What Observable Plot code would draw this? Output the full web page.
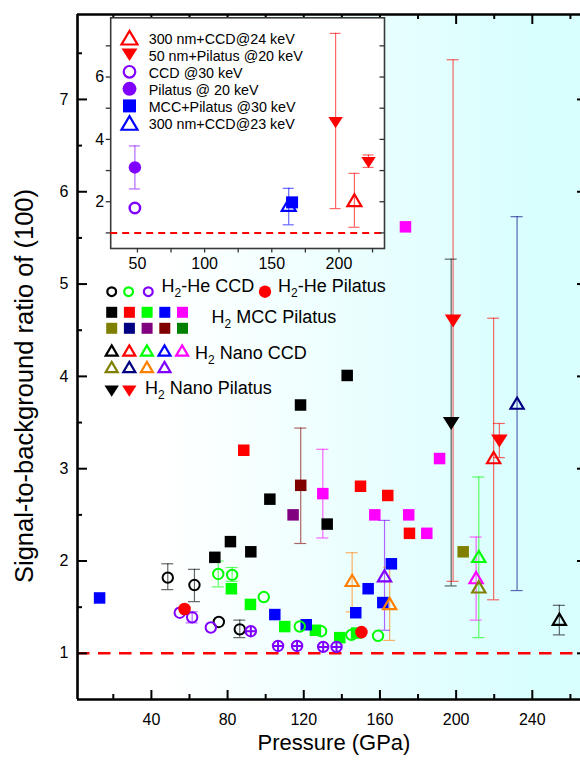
<!DOCTYPE html>
<html><head><meta charset="utf-8">
<script src="https://cdn.jsdelivr.net/npm/d3@7"></script>
<script src="https://cdn.jsdelivr.net/npm/@observablehq/plot@0.6"></script>
<style>
body{margin:0;background:#fff;}
#wrap{position:relative;width:580px;height:761px;overflow:hidden;font-family:"Liberation Sans",Arial,sans-serif;}
#wrap > svg{position:absolute;}
</style></head><body><div id="wrap"></div>
<script>
// ===== DATA (pressure in GPa, signal-to-background ratio) =====
// H2-He CCD (open circles)
const heCcdBlackP = [48.6, 62.6, 75.4, 86.4];
const heCcdBlackV = [1.82, 1.74, 1.34, 1.26];
const heCcdBlackLo = [1.69, 1.56, null, 1.17];
const heCcdBlackHi = [1.97, 1.91, null, 1.36];
const heCcdGreenP = [75.1, 82.4, 99.0, 117.9, 129.1, 145.0, 159.0];
const heCcdGreenV = [1.86, 1.85, 1.61, 1.29, 1.24, 1.20, 1.19];
const heCcdGreenLo = [1.72, 1.78, null, null, null, null, null];
const heCcdGreenHi = [2.00, 1.93, null, null, null, null, null];
const heCcdVioletP = [54.9, 61.4, 71.2];
const heCcdVioletV = [1.44, 1.39, 1.28];
const heCcdVioletLo = [null, 1.33, null];
const heCcdVioletHi = [null, 1.45, null];
const heCcdVioletXP = [92.2, 106.5, 116.5, 130.2, 137.2];
const heCcdVioletXV = [1.24, 1.08, 1.08, 1.07, 1.07];
// H2-He Pilatus (filled circles)
const hePilatusP = [57.4, 150.3];
const hePilatusV = [1.48, 1.23];
// H2 MCC Pilatus (squares)
const mccBlackP = [73.3, 81.5, 92.2, 102.2, 118.3, 132.3, 142.8];
const mccBlackV = [2.04, 2.21, 2.10, 2.67, 3.69, 2.40, 4.01];
const mccRedP = [88.5, 149.8, 164.1, 175.5];
const mccRedV = [3.20, 2.81, 2.71, 2.30];
const mccGreenP = [82.0, 92.0, 110.0, 126.1, 138.9, 147.7];
const mccGreenV = [1.70, 1.53, 1.29, 1.25, 1.17, 1.22];
const mccBlueP = [12.8, 104.8, 121.3, 147.3, 153.8, 161.5, 166.0];
const mccBlueV = [1.60, 1.42, 1.31, 1.44, 1.70, 1.55, 1.97];
const mccMagentaP = [130.0, 157.3, 173.4, 175.1, 184.6, 191.3];
const mccMagentaV = [2.73, 2.50, 5.62, 2.50, 2.30, 3.11];
const mccMagentaLo = [2.25, null, null, null, null, null];
const mccMagentaHi = [3.21, null, null, null, null, null];
const mccOliveP = [203.7];
const mccOliveV = [2.10];
const mccPurpleP = [114.4];
const mccPurpleV = [2.50];
const mccDarkRedP = [118.4];
const mccDarkRedV = [2.82];
const mccDarkRedLo = [2.19];
const mccDarkRedHi = [3.44];
// H2 Nano CCD (open up-triangles)
const nccBlackP = [254.2], nccBlackV = [1.37], nccBlackLo = [1.20], nccBlackHi = [1.52];
const nccRedP = [219.7], nccRedV = [3.12], nccRedLo = [1.58], nccRedHi = [4.63];
const nccGreenP = [211.9], nccGreenV = [2.05], nccGreenLo = [1.17], nccGreenHi = [2.91];
const nccMagentaP = [210.5], nccMagentaV = [1.82], nccMagentaLo = [1.36], nccMagentaHi = [2.26];
const nccOliveP = [211.9], nccOliveV = [1.72];
const nccNavyP = [232.0], nccNavyV = [3.71], nccNavyLo = [1.68], nccNavyHi = [5.73];
const nccOrangeP = [145.4, 165.1], nccOrangeV = [1.79, 1.54], nccOrangeLo = [1.45, 1.14], nccOrangeHi = [2.09, 1.93];
const nccVioletP = [162.4], nccVioletV = [1.84], nccVioletLo = [1.25], nccVioletHi = [2.44];
// H2 Nano Pilatus (filled down-triangles)
const npBlackP = [197.4], npBlackV = [3.49], npBlackLo = [1.73], npBlackHi = [5.27];
const npRedP = [198.4, 222.7], npRedV = [4.60, 3.30], npRedLo = [1.78, 3.12], npRedHi = [7.43, 3.49];

// Inset data
const inPil20P = [48.1], inPil20V = [3.10], inPil20Lo = [2.41], inPil20Hi = [3.79];
const inCcd30P = [48.1], inCcd30V = [1.80];
const inMcc30P = [165.1], inMcc30V = [1.98];
const inN300c23P = [162.6], inN300c23V = [1.90], inN300c23Lo = [1.26], inN300c23Hi = [2.43];
const inN50p20P = [197.5, 222.0], inN50p20V = [4.54, 3.26], inN50p20Lo = [1.78, 3.10], inN50p20Hi = [7.40, 3.50];
const inN300c24P = [211.5], inN300c24V = [2.05], inN300c24Lo = [1.18], inN300c24Hi = [2.91];

// Tick values
const mainXMajor = [40, 80, 120, 160, 200, 240];
const mainXMinor = [20, 60, 100, 140, 180, 220, 260];
const mainYMajor = [1, 2, 3, 4, 5, 6, 7];
const mainYMinor = [1.5, 2.5, 3.5, 4.5, 5.5, 6.5, 7.5];
const insetXTicks = [50, 75, 100, 125, 150, 175, 200, 225];
const insetXLabels = [50, 100, 150, 200];
const insetYTicks = [1, 2, 3, 4, 5, 6, 7];
const insetYLabels = [2, 4, 6];

// ===== helpers =====
const FONT = '"Liberation Sans", Arial, Helvetica, sans-serif';
const C = {black:"#000000", red:"#ff0000", green:"#00ff00", blue:"#0000ff", magenta:"#ff00ff",
  olive:"#808000", navy:"#000080", purple:"#800080", darkred:"#800000", darkgreen:"#008000",
  orange:"#ff8000", violet:"#8000ff"};
const intFmt = d => String(d);

function rows(P, V, shape, color, Lo, Hi) {
  return P.map((p, i) => ({x: p, y: V[i], shape, color,
    lo: Lo ? Lo[i] : null, hi: Hi ? Hi[i] : null}));
}
const rr = size => Math.sqrt(size / Math.PI);
const squareSym = {draw(c, s){ const r = rr(s); c.rect(-r, -r, 2*r, 2*r); }};
const triUpSym = {draw(c, s){ const r = rr(s), h = 1.7*r; c.moveTo(0, -h/2); c.lineTo(r, h/2); c.lineTo(-r, h/2); c.closePath(); }};
const triDownSym = {draw(c, s){ const r = rr(s), h = 1.55*r; c.moveTo(0, h/2); c.lineTo(r, -h/2); c.lineTo(-r, -h/2); c.closePath(); }};
const circlePlusSym = {draw(c, s){ const r = rr(s); c.moveTo(r, 0); c.arc(0, 0, r, 0, 2*Math.PI); c.moveTo(-r, 0); c.lineTo(r, 0); c.moveTo(0, -r); c.lineTo(0, r); }};

const mainRows = [
  ...rows(mccBlackP, mccBlackV, "square", C.black),
  ...rows(mccRedP, mccRedV, "square", C.red),
  ...rows(mccGreenP, mccGreenV, "square", C.green),
  ...rows(mccBlueP, mccBlueV, "square", C.blue),
  ...rows(mccMagentaP, mccMagentaV, "square", C.magenta, mccMagentaLo, mccMagentaHi),
  ...rows(mccOliveP, mccOliveV, "square", C.olive),
  ...rows(mccPurpleP, mccPurpleV, "square", C.purple),
  ...rows(mccDarkRedP, mccDarkRedV, "square", C.darkred, mccDarkRedLo, mccDarkRedHi),
  ...rows(heCcdBlackP, heCcdBlackV, "circleOpen", C.black, heCcdBlackLo, heCcdBlackHi),
  ...rows(heCcdGreenP, heCcdGreenV, "circleOpen", C.green, heCcdGreenLo, heCcdGreenHi),
  ...rows(heCcdVioletP, heCcdVioletV, "circleOpen", C.violet, heCcdVioletLo, heCcdVioletHi),
  ...rows(heCcdVioletXP, heCcdVioletXV, "circlePlus", C.violet),
  ...rows(hePilatusP, hePilatusV, "circleFill", C.red),
  ...rows(nccBlackP, nccBlackV, "triUp", C.black, nccBlackLo, nccBlackHi),
  ...rows(nccRedP, nccRedV, "triUp", C.red, nccRedLo, nccRedHi),
  ...rows(nccGreenP, nccGreenV, "triUp", C.green, nccGreenLo, nccGreenHi),
  ...rows(nccMagentaP, nccMagentaV, "triUp", C.magenta, nccMagentaLo, nccMagentaHi),
  ...rows(nccOliveP, nccOliveV, "triUp", C.olive),
  ...rows(nccNavyP, nccNavyV, "triUp", C.navy, nccNavyLo, nccNavyHi),
  ...rows(nccOrangeP, nccOrangeV, "triUp", C.orange, nccOrangeLo, nccOrangeHi),
  ...rows(nccVioletP, nccVioletV, "triUp", C.violet, nccVioletLo, nccVioletHi),
  ...rows(npBlackP, npBlackV, "triDown", C.black, npBlackLo, npBlackHi),
  ...rows(npRedP, npRedV, "triDown", C.red, npRedLo, npRedHi)
];
const insetRows = [
  ...rows(inPil20P, inPil20V, "circleFill", C.violet, inPil20Lo, inPil20Hi),
  ...rows(inCcd30P, inCcd30V, "circleOpen", C.violet),
  ...rows(inN300c23P, inN300c23V, "triUp", C.blue, inN300c23Lo, inN300c23Hi),
  ...rows(inMcc30P, inMcc30V, "square", C.blue),
  ...rows(inN50p20P, inN50p20V, "triDown", C.red, inN50p20Lo, inN50p20Hi),
  ...rows(inN300c24P, inN300c24V, "triUp", C.red, inN300c24Lo, inN300c24Hi)
];

function errMarks(data, cap) {
  const e = data.filter(d => d.lo != null);
  const o = {stroke: "color", strokeOpacity: 0.6, strokeWidth: 1.2};
  return [
    Plot.ruleX(e, {x: "x", y1: "lo", y2: "hi", ...o}),
    Plot.ruleY(e, {y: "lo", x1: "x", x2: "x", insetLeft: -cap, insetRight: -cap, ...o}),
    Plot.ruleY(e, {y: "hi", x1: "x", x2: "x", insetLeft: -cap, insetRight: -cap, ...o})
  ];
}
function dotMarks(data, sz) {
  const f = s => data.filter(d => d.shape === s);
  return [
    Plot.dot(f("square"), {x: "x", y: "y", symbol: squareSym, r: sz.sq, fill: "color", stroke: "none"}),
    Plot.dot(f("circleOpen"), {x: "x", y: "y", symbol: "circle", r: sz.co, fill: "none", stroke: "color", strokeWidth: sz.cw}),
    Plot.dot(f("circlePlus"), {x: "x", y: "y", symbol: circlePlusSym, r: sz.co, fill: "none", stroke: "color", strokeWidth: 2}),
    Plot.dot(f("circleFill"), {x: "x", y: "y", symbol: "circle", r: sz.cf, fill: "color", stroke: "none"}),
    Plot.dot(f("triUp"), {x: "x", y: "y", symbol: triUpSym, r: sz.tu, fill: "none", stroke: "color", strokeWidth: 2.2}),
    Plot.dot(f("triDown"), {x: "x", y: "y", symbol: triDownSym, r: sz.td, fill: "color", stroke: "none"})
  ];
}

// ===== MAIN PLOT =====
const MW = 580, MH = 761, mL = 77, mR = 0, mT = 14, mB = 62;
const FW = MW - mL - mR, FH = MH - mT - mB;
const main = Plot.plot({
  width: MW, height: MH, marginLeft: mL, marginRight: mR, marginTop: mT, marginBottom: mB,
  x: {domain: [1.2, 265.3], label: null},
  y: {domain: [0.5, 7.92], label: null},
  color: {type: "identity"},
  style: {fontFamily: FONT, background: "transparent", color: "black"},
  marks: [
    Plot.frame({fill: "url(#bgGrad)", stroke: "none"}),
    Plot.ruleY([1], {stroke: "#ff0000", strokeDasharray: "12.5,8.5", strokeWidth: 2.5}),
    ...errMarks(mainRows, 6),
    ...dotMarks(mainRows, {sq: 5.75, co: 5.2, cw: 2, cf: 6.3, tu: 6.6, td: 8.3}),
    // ticks
    Plot.ruleX(mainXMajor, {insetTop: FH - 9, stroke: "black", strokeWidth: 2}),
    Plot.ruleX(mainXMinor, {insetTop: FH - 5, stroke: "black", strokeWidth: 2}),
    Plot.ruleX(mainXMajor, {insetBottom: FH - 10, stroke: "black", strokeWidth: 2}),
    Plot.ruleX(mainXMinor, {insetBottom: FH - 5, stroke: "black", strokeWidth: 2}),
    Plot.ruleY(mainYMajor, {insetRight: FW - 10, stroke: "black", strokeWidth: 2}),
    Plot.ruleY(mainYMinor, {insetRight: FW - 5, stroke: "black", strokeWidth: 2}),
    Plot.ruleY(mainYMajor, {insetLeft: FW - 3, stroke: "black", strokeWidth: 2}),
    // axis lines
    Plot.ruleX([1.2], {stroke: "black", strokeWidth: 2.6}),
    Plot.ruleY([0.5], {stroke: "black", strokeWidth: 2.4}),
    Plot.ruleY([7.92], {stroke: "black", strokeWidth: 2.6}),
    Plot.axisX(mainXMajor, {tickSize: 0, tickPadding: 14, fontSize: 16, label: null, tickFormat: intFmt}),
    Plot.axisY(mainYMajor, {tickSize: 0, tickPadding: 9, fontSize: 16, label: null, tickFormat: intFmt}),
    Plot.text(["Pressure (GPa)"], {text: d => d, frameAnchor: "bottom", dx: 5, dy: 50, fontSize: 22, textAnchor: "middle", fill: "black"}),
    Plot.text(["Signal-to-background ratio of (100)"], {text: d => d, frameAnchor: "left", rotate: -90, dx: -53, dy: 29, fontSize: 25.5, textAnchor: "middle", fill: "black"})
  ]
});
{
  const defs = d3.select(main).insert("defs", ":first-child");
  const g = defs.append("linearGradient").attr("id", "bgGrad").attr("gradientUnits", "userSpaceOnUse")
    .attr("x1", 160).attr("x2", 530).attr("y1", 0).attr("y2", 0);
  g.append("stop").attr("offset", 0).attr("stop-color", "#ffffff");
  g.append("stop").attr("offset", 1).attr("stop-color", "#d9fefe");
}
main.style.left = "0px"; main.style.top = "0px";

// ===== INSET =====
const IW = 310, IH = 266, iL = 30.2, iR = 6, iT = 5.3, iB = 30;
const IFW = IW - iL - iR, IFH = IH - iT - iB;
const inset = Plot.plot({
  width: IW, height: IH, marginLeft: iL, marginRight: iR, marginTop: iT, marginBottom: iB,
  x: {domain: [30.1, 233.9], label: null},
  y: {domain: [0.5, 7.9], label: null},
  color: {type: "identity"},
  style: {fontFamily: FONT, background: "transparent", color: "black"},
  marks: [
    Plot.frame({fill: "white", stroke: "#3a3a3a", strokeWidth: 1.6}),
    Plot.ruleY([1], {stroke: "#ff0000", strokeDasharray: "7,5", strokeWidth: 2}),
    Plot.ruleY(insetYTicks, {insetLeft: -4.5, insetRight: IFW, stroke: "#333", strokeWidth: 1.3}),
    Plot.ruleY(insetYTicks, {insetLeft: IFW - 4.5, stroke: "#333", strokeWidth: 1.3}),
    Plot.ruleX(insetXTicks, {insetTop: IFH, insetBottom: -4.5, stroke: "#333", strokeWidth: 1.3}),
    ...errMarks(insetRows, 5.5),
    ...dotMarks(insetRows, {sq: 6, co: 5.2, cw: 2.5, cf: 6.2, tu: 7, td: 7.2}),
    Plot.axisX(insetXLabels, {tickSize: 0, tickPadding: 9, fontSize: 16, label: null, tickFormat: intFmt}),
    Plot.axisY(insetYLabels, {tickSize: 0, tickPadding: 6.5, fontSize: 16, label: null, tickFormat: intFmt})
  ]
});
inset.style.left = "80px"; inset.style.top = "12px";

const wrap = document.getElementById("wrap");
wrap.appendChild(main);
wrap.appendChild(inset);

// ===== LEGENDS (overlay) =====
const leg = d3.create("svg").attr("width", 580).attr("height", 761)
  .style("left", "0px").style("top", "0px").style("pointer-events", "none")
  .attr("font-family", FONT);
function sym(shape, color, x, y, r) {
  const map = {square: squareSym, triUp: triUpSym, triDown: triDownSym, circleOpen: d3.symbolCircle, circleFill: d3.symbolCircle};
  const p = leg.append("path").attr("transform", `translate(${x},${y})`)
    .attr("d", d3.symbol(map[shape], Math.PI * r * r)());
  if (shape === "circleOpen") p.attr("fill", "none").attr("stroke", color).attr("stroke-width", 2.2);
  else if (shape === "triUp") p.attr("fill", "none").attr("stroke", color).attr("stroke-width", 2.2);
  else p.attr("fill", color);
}
function htext(x, y, size, parts) {
  const t = leg.append("text").attr("x", x).attr("y", y).attr("font-size", size).attr("fill", "black");
  parts.forEach(([s, sub]) => {
    t.append("tspan").attr("dy", sub ? 5 : (t.node().childNodes.length ? -5 : 0))
      .attr("font-size", sub ? 12 : size).text(s);
  });
}
// main legend
sym("circleOpen", C.black, 111.7, 291.7, 4.4);
sym("circleOpen", C.green, 128.6, 291.7, 4.4);
sym("circleOpen", C.violet, 148.3, 291.7, 4.4);
htext(161.5, 297, 18, [["H"], ["2", true], ["-He CCD"]]);
sym("circleFill", C.red, 265, 291.7, 6.2);
htext(278, 297, 18, [["H"], ["2", true], ["-He Pilatus"]]);
[[C.black, C.red, C.green, C.blue, C.magenta], [C.olive, C.navy, C.purple, C.darkred, C.darkgreen]]
  .forEach((row, j) => row.forEach((c, i) => sym("square", c, 111.7 + i * 17.7, 312.3 + j * 16, 5.5)));
htext(211.5, 327.7, 18, [["H"], ["2", true], [" MCC Pilatus"]]);
[[C.black, C.red, C.green, C.blue, C.magenta], [C.olive, C.navy, C.orange, C.violet]]
  .forEach((row, j) => row.forEach((c, i) => sym("triUp", c, 111.7 + i * 17.6, 350.5 + j * 16.5, 6)));
htext(195, 364, 18, [["H"], ["2", true], [" Nano CCD"]]);
sym("triDown", C.black, 111.7, 391.2, 7.2);
sym("triDown", C.red, 129.3, 391.2, 7.2);
htext(145, 399, 18, [["H"], ["2", true], [" Nano Pilatus"]]);
// inset legend
const insetLegend = [
  ["triUp", C.red, "300 nm+CCD@24 keV"],
  ["triDown", C.red, "50 nm+Pilatus @20 keV"],
  ["circleOpen", C.violet, "CCD @30 keV"],
  ["circleFill", C.violet, "Pilatus @ 20 keV"],
  ["square", C.blue, "MCC+Pilatus @30 keV"],
  ["triUp", C.blue, "300 nm+CCD@23 keV"]
];
insetLegend.forEach(([s, c, label], i) => {
  const y = 37.7 + i * 17.05;
  sym(s, c, 129.5, y, s === "circleOpen" ? 5.8 : s === "circleFill" ? 7 : s === "square" ? 6.5 : 8);
  leg.append("text").attr("x", 148.7).attr("y", y + 6).attr("font-size", 14.3).attr("fill", "black").text(label);
});
wrap.appendChild(leg.node());
</script></body></html>
